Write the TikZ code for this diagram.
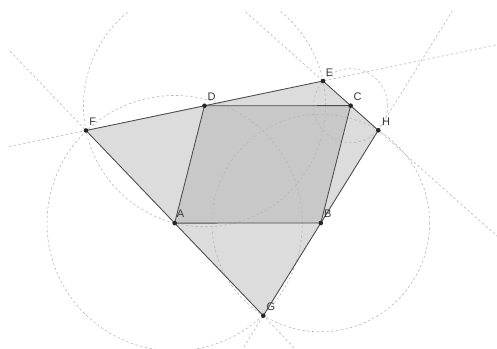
\documentclass[tikz,border=0pt]{standalone}
\usepackage{fontspec}
\setmainfont{Liberation Sans}
\usetikzlibrary{calc}
\definecolor{edgec}{HTML}{4C4C4C}
\definecolor{auxc}{HTML}{B8B8B8}
\definecolor{quadfill}{HTML}{DCDCDC}
\definecolor{parfill}{HTML}{C8C8C8}
\definecolor{ptc}{HTML}{262626}
\definecolor{lblc}{HTML}{383838}
\begin{document}
\begin{tikzpicture}[x=1pt,y=-1pt,
  aux/.style={draw=auxc, line width=0.6pt, dash pattern=on 2.4pt off 2.4pt},
  edge/.style={draw=edgec, line width=0.85pt},
  pt/.style={circle, fill=ptc, inner sep=0pt, minimum size=4.6pt},
  lbl/.style={text=lblc, font=\fontsize{11}{13}\selectfont, inner sep=0pt}]
\useasboundingbox (0,0) rectangle (497,348);
% outer quadrilateral vertices
\coordinate (F) at (86,130.5);
\coordinate (E) at (323,81);
\coordinate (H) at (378.3,130.3);
\coordinate (G) at (263.3,315.7);
% midpoints (Varignon parallelogram)
\coordinate (D) at ($(F)!0.5!(E)$);
\coordinate (C) at ($(E)!0.5!(H)$);
\coordinate (B) at ($(H)!0.5!(G)$);
\coordinate (A) at ($(G)!0.5!(F)$);
% fills
\fill[quadfill] (F) -- (E) -- (H) -- (G) -- cycle;
\fill[parfill] (A) -- (B) -- (C) -- (D) -- cycle;
% auxiliary construction
\begin{scope}
\clip (9,11) rectangle (497,348);
\draw[aux] ($(F)!-3!(E)$) -- ($(F)!4!(E)$);
\draw[aux] ($(E)!-6!(H)$) -- ($(E)!7!(H)$);
\draw[aux] ($(H)!-3!(G)$) -- ($(H)!4!(G)$);
\draw[aux] ($(G)!-3!(F)$) -- ($(G)!4!(F)$);
\draw[aux] let \p1=($(F)-(D)$), \n1={veclen(\x1,\y1)} in (D) circle (\n1);
\draw[aux] let \p1=($(E)-(C)$), \n1={veclen(\x1,\y1)} in (C) circle (\n1);
\draw[aux] let \p1=($(H)-(B)$), \n1={veclen(\x1,\y1)} in (B) circle (\n1);
\draw[aux] let \p1=($(G)-(A)$), \n1={veclen(\x1,\y1)} in (A) circle (\n1);
\end{scope}
% solid edges
\draw[edge] (F) -- (E) -- (H) -- (G) -- cycle;
\draw[edge] (A) -- (B) -- (C) -- (D) -- cycle;
% points
\node[pt] (pA) at (A) {};
\node[pt] (pB) at (B) {};
\node[pt] (pC) at (C) {};
\node[pt] (pD) at (D) {};
\node[pt] (pE) at (E) {};
\node[pt] (pF) at (F) {};
\node[pt] (pG) at (G) {};
\node[pt] (pH) at (H) {};
% labels
\node[lbl] (lA) at ($(A)+(6,-9)$) {A};
\node[lbl] (lB) at ($(B)+(7,-9)$) {B};
\node[lbl] (lC) at ($(C)+(7,-8.6)$) {C};
\node[lbl] (lD) at ($(D)+(7,-8.7)$) {D};
\node[lbl] (lE) at ($(E)+(6.5,-8)$) {E};
\node[lbl] (lF) at ($(F)+(6.7,-8.5)$) {F};
\node[lbl] (lG) at ($(G)+(7.7,-8.7)$) {G};
\node[lbl] (lH) at ($(H)+(7.7,-8.3)$) {H};
\end{tikzpicture}
\end{document}
